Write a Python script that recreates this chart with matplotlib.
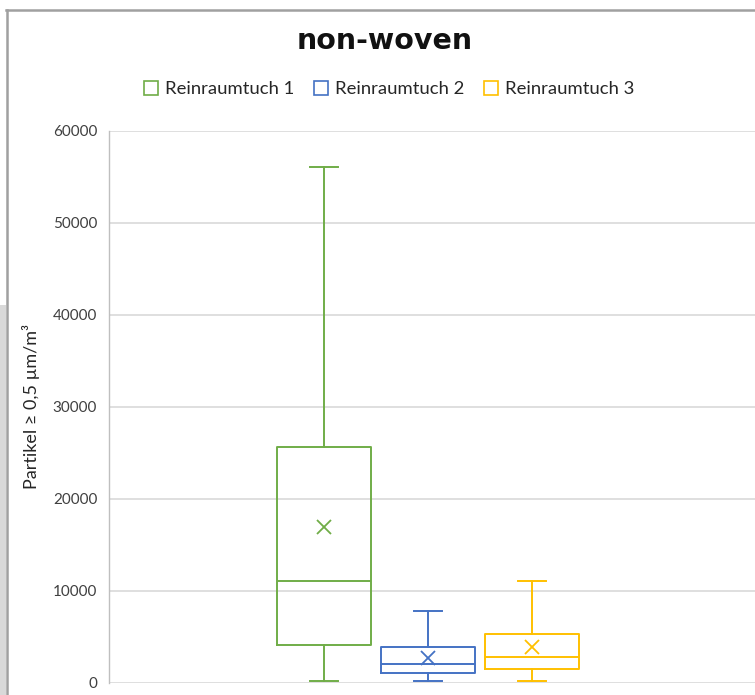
import matplotlib
matplotlib.use("Agg")
import matplotlib.pyplot as plt
from matplotlib.lines import Line2D
from matplotlib.patches import Rectangle

# =========================================================================
# DATA
# =========================================================================
labels = ["Reinraumtuch 1", "Reinraumtuch 2", "Reinraumtuch 3"]
colors = ["#70AD47", "#4472C4", "#FFC000"]
whis_lo = [150, 150, 150]
q1 = [4080, 1000, 1440]
median = [11080, 2050, 2800]
q3 = [25600, 3830, 5240]
whis_hi = [56100, 7780, 11010]
mean = [16950, 2650, 3900]
y_ticks = [0, 10000, 20000, 30000, 40000, 50000, 60000]

W, H = 755, 695
plt.rcParams["font.family"] = ["Lato", "DejaVu Sans"]

fig = plt.figure(figsize=(W / 100, H / 100), dpi=100)
fig.patch.set_facecolor("white")

# axes placed in pixel units of the target
left, right, top, bottom = 109, 755, 131, 682.5
ax = fig.add_axes([left / W, 1 - bottom / H, (right - left) / W, (bottom - top) / H])

# one category, three boxes side by side (1 unit = 104 px)
px_unit = 104.0
positions = [1, 2, 3]
center_px = 428
ax.set_xlim(2 - (center_px - left) / px_unit, 2 + (right - center_px) / px_unit)
ax.set_ylim(0, 60000)

stats = []
for i in range(3):
    stats.append(dict(label=labels[i], whislo=whis_lo[i], q1=q1[i], med=median[i],
                      q3=q3[i], whishi=whis_hi[i], mean=mean[i], fliers=[]))

for i in range(3):
    c = colors[i]
    ax.bxp([stats[i]], positions=[positions[i]], widths=94 / px_unit,
           capwidths=28 / px_unit, showmeans=True, showfliers=False,
           boxprops=dict(color=c, lw=1.4),
           medianprops=dict(color=c, lw=1.4),
           whiskerprops=dict(color=c, lw=1.4),
           capprops=dict(color=c, lw=1.4),
           meanprops=dict(marker="x", markeredgecolor=c, markersize=10,
                          markeredgewidth=1.3, linestyle="none"),
           zorder=3)

ax.set_yticks(y_ticks)
ax.set_yticklabels([str(v) for v in y_ticks])
ax.set_xticks([])
ax.grid(axis="y", color="#d9d9d9", lw=1.2, zorder=0)
ax.set_axisbelow(True)
for s in ["top", "right", "bottom"]:
    ax.spines[s].set_visible(False)
ax.spines["left"].set_color("#bfbfbf")
ax.spines["left"].set_linewidth(1.0)
ax.tick_params(axis="y", length=0, pad=8.5, labelsize=11, labelcolor="#404040")

ax.set_ylabel("Partikel ≥ 0,5 µm/m³", fontsize=13, color="#262626")
ax.yaxis.set_label_coords((40 - left) / (right - left), 0.5)

# title
fig.text(385 / W, 1 - 41 / H, "non-woven", ha="center", va="center",
         fontsize=20.5, fontweight="bold", family="DejaVu Sans", color="#111111")

# legend
handles = [Line2D([], [], marker="s", linestyle="none", markersize=10,
                  markerfacecolor="none", markeredgecolor=c, markeredgewidth=1.2)
           for c in colors]
fig.legend(handles, labels, loc="center", bbox_to_anchor=(389 / W, 1 - 89 / H),
           ncol=3, frameon=False, fontsize=13.3, handlelength=0.8,
           handletextpad=0.4, columnspacing=1.0, labelcolor="#262626")

# screenshot frame: border of the chart area and gray strip on the left
fig.add_artist(Rectangle((0, 0), 6 / W, (H - 305) / H, transform=fig.transFigure,
                         facecolor="#d9d9d9", edgecolor="none", zorder=0))
fig.add_artist(Line2D([6 / W, 1], [1 - 9.5 / H, 1 - 9.5 / H], transform=fig.transFigure,
                      color="#a0a0a0", lw=1.8))
fig.add_artist(Line2D([7 / W, 7 / W], [0, 1 - 9.5 / H], transform=fig.transFigure,
                      color="#a0a0a0", lw=1.8))

fig.savefig("out.png", dpi=100)
